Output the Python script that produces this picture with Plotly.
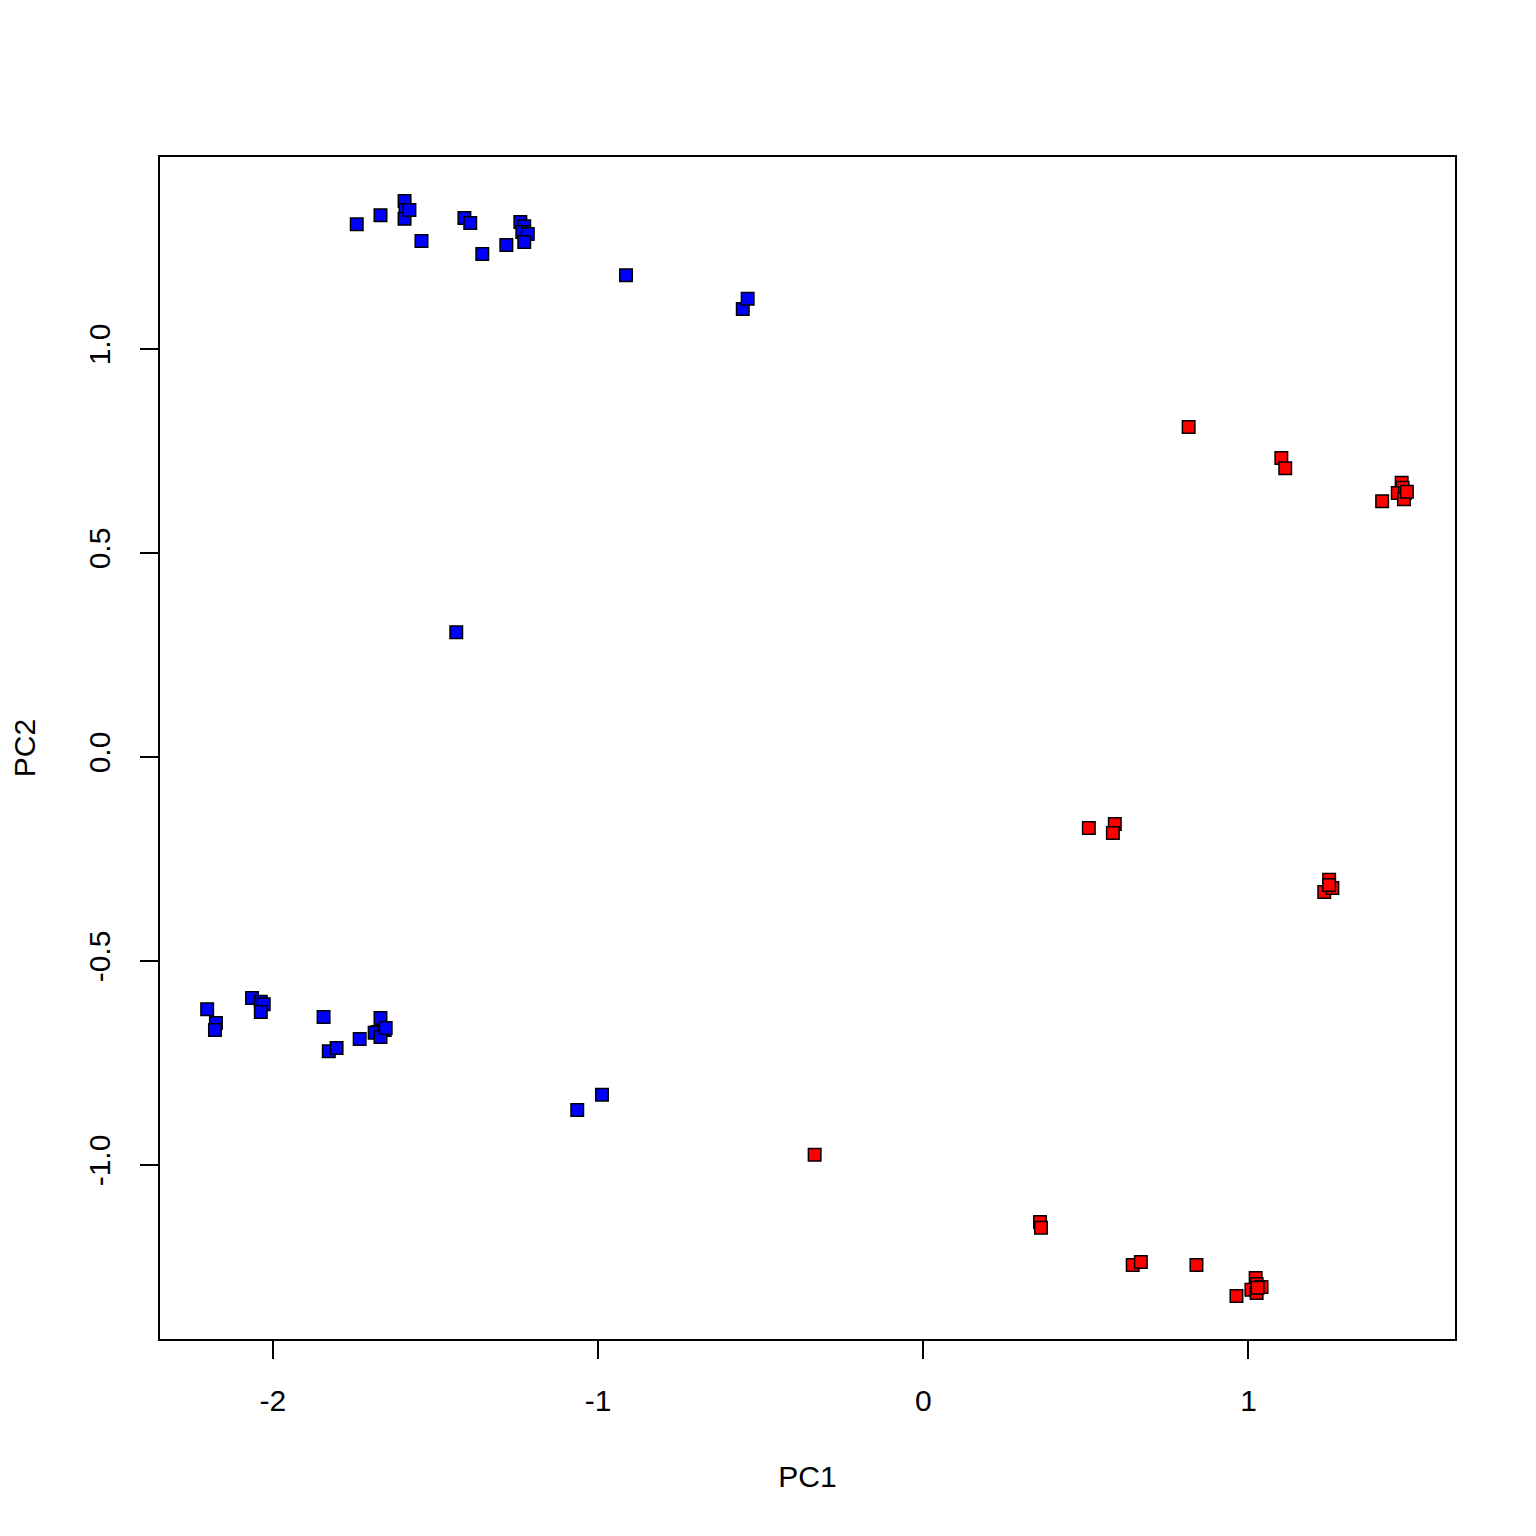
import plotly.graph_objects as go

blue_pc1 = [-1.742, -1.669, -1.595, -1.592, -1.595, -1.580, -1.543, -1.411, -1.393, -1.356, -1.282,
            -1.239, -1.227, -1.233, -1.216, -1.227, -0.914, -0.555, -0.540, -1.436,
            -2.202, -2.175, -2.178, -2.064, -2.037, -2.028, -2.037, -1.844, -1.828, -1.804,
            -1.733, -1.669, -1.678, -1.687, -1.656, -1.669, -1.653, -1.064, -0.988]
blue_pc2 = [1.306, 1.328, 1.363, 1.341, 1.319, 1.341, 1.265, 1.321, 1.309, 1.233, 1.255,
            1.311, 1.301, 1.287, 1.282, 1.262, 1.181, 1.098, 1.123, 0.306,
            -0.618, -0.652, -0.669, -0.591, -0.600, -0.606, -0.625, -0.637, -0.721, -0.713,
            -0.691, -0.640, -0.674, -0.676, -0.669, -0.686, -0.664, -0.865, -0.828]

red_pc1 = [0.816, 1.101, 1.113, 1.411, 1.471, 1.474, 1.459, 1.481, 1.478, 1.487,
           0.509, 0.589, 0.583, 1.233, 1.248, 1.258, 1.248,
           -0.334, 0.359, 0.362, 0.644, 0.669, 0.840, 0.963,
           1.022, 1.025, 1.009, 1.040, 1.025, 1.028]
red_pc2 = [0.809, 0.733, 0.708, 0.627, 0.672, 0.660, 0.647, 0.647, 0.632, 0.650,
           -0.174, -0.164, -0.186, -0.331, -0.301, -0.321, -0.314,
           -0.975, -1.140, -1.154, -1.245, -1.238, -1.245, -1.321,
           -1.277, -1.292, -1.306, -1.299, -1.314, -1.301]

x_ticks = [-2, -1, 0, 1]
y_ticks = [-1.0, -0.5, 0.0, 0.5, 1.0]
y_tick_text = ["-1.0", "-0.5", "0.0", "0.5", "1.0"]

fig = go.Figure()
marker_common = dict(symbol="square", size=12.5, line=dict(color="black", width=1.5))
fig.add_trace(go.Scatter(x=blue_pc1, y=blue_pc2, mode="markers",
                         marker=dict(color="#0000FF", **marker_common), showlegend=False))
fig.add_trace(go.Scatter(x=red_pc1, y=red_pc2, mode="markers",
                         marker=dict(color="#FF0000", **marker_common), showlegend=False))

font = dict(family="Liberation Sans, Arial, sans-serif", size=30, color="black")
fig.update_layout(
    width=1536, height=1536,
    margin=dict(l=149, r=89, t=149, b=205),
    paper_bgcolor="white", plot_bgcolor="white",
    font=font,
    xaxis=dict(range=[-2.347, 1.635], tickvals=x_ticks, ticktext=[str(v) for v in x_ticks],
               showgrid=False, zeroline=False, showline=True, mirror=True,
               linecolor="black", linewidth=1.5, ticks="outside", ticklen=18, tickwidth=1.5,
               tickcolor="black", tickfont=font, ticklabelstandoff=16,
               title=dict(text="PC1", font=font, standoff=50)),
    yaxis=dict(range=[-1.4265, 1.4706], tickvals=y_ticks, ticktext=y_tick_text,
               showgrid=False, zeroline=False, showline=True, mirror=True,
               linecolor="black", linewidth=1.5, ticks="outside", ticklen=18, tickwidth=1.5,
               tickcolor="black", tickfont=font, tickangle=-90, ticklabelstandoff=18,
               title=dict(text="PC2", font=font, standoff=42)),
)
fig.write_html("out.html")
